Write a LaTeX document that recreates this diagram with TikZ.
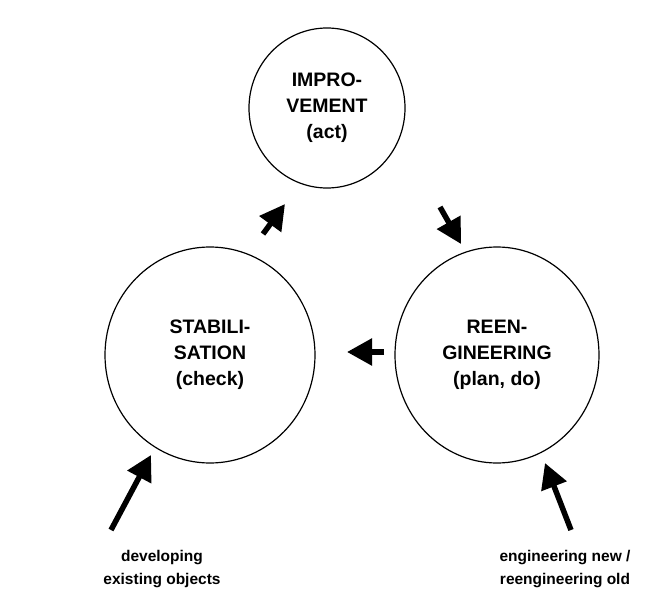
\documentclass[tikz,border=0pt]{standalone}
\usepackage{fontspec}
\setmainfont{Liberation Sans}
\usetikzlibrary{arrows.meta,shapes.geometric}
\begin{document}
\begin{tikzpicture}[x=1pt,y=-1pt,
  phase/.style={draw,line width=1.2pt,ellipse,inner sep=0pt,align=center,
    font=\fontsize{19.5}{26}\selectfont\bfseries},
  flow/.style={line width=5.5pt,-{Triangle[length=25pt,width=26pt]}},
  lbl/.style={align=center,font=\fontsize{15.5}{23}\selectfont\bfseries}]
\useasboundingbox[fill=white] (0,0) rectangle (649,597);
\node[phase,minimum width=156pt,minimum height=160pt] (imp) at (327,108) {IMPRO-\\VEMENT\\(act)};
\node[phase,minimum width=210pt,minimum height=216pt] (sta) at (210,355) {STABILI-\\SATION\\(check)};
\node[phase,minimum width=204pt,minimum height=216pt] (ree) at (497,355) {REEN-\\GINEERING\\(plan, do)};
\coordinate (a1s) at (263,234);
\coordinate (a1e) at (285,204);
\coordinate (a2s) at (440,207);
\coordinate (a2e) at (461,244);
\coordinate (a3s) at (384,352);
\coordinate (a3e) at (347,352);
\coordinate (a4s) at (111,530);
\coordinate (a4e) at (151,455);
\coordinate (a5s) at (571,530);
\coordinate (a5e) at (545,463);
\draw[flow] (a1s) -- (a1e);
\draw[flow] (a2s) -- (a2e);
\draw[flow] (a3s) -- (a3e);
\draw[flow] (a4s) -- (a4e);
\draw[flow] (a5s) -- (a5e);
\node[lbl] (dev) at (162,569) {developing\\existing objects};
\node[lbl] (eng) at (565,569) {engineering new /\\reengineering old};
\end{tikzpicture}
\end{document}
